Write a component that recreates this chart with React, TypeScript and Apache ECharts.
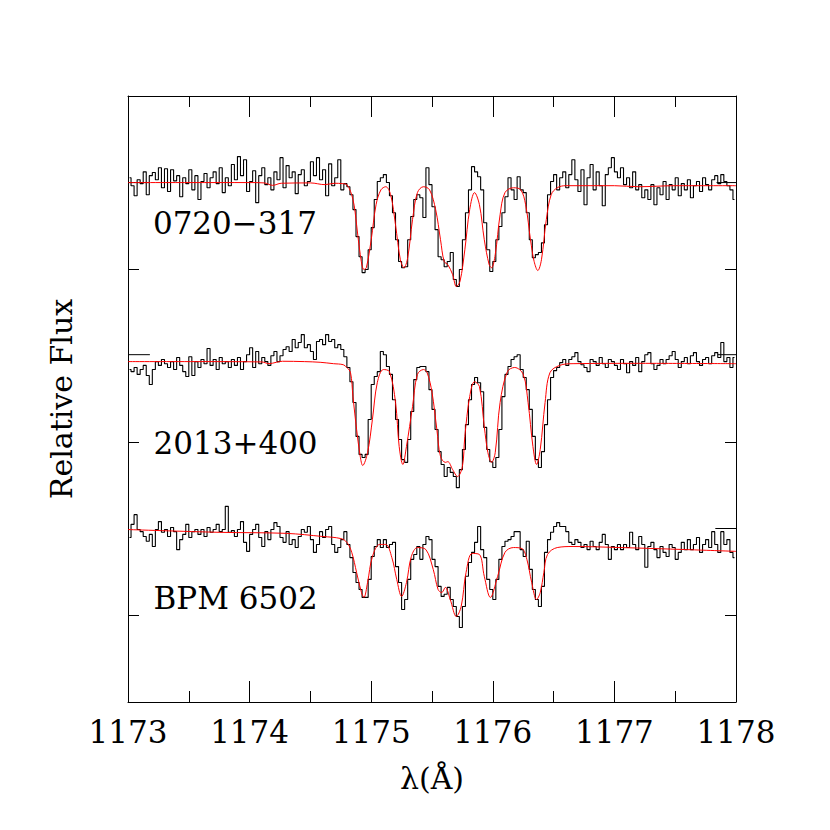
import React, { useEffect, useRef } from "react";
import * as echarts from "echarts";

// Wavelength axis (Angstrom)
const X_MIN = 1173;
const X_MAX = 1178;
const X_INTERVAL = 1;
// Relative flux axis (stacked spectra, offsets included)
const Y_MIN = -0.25;
const Y_MAX = 1.5;
const Y_TICKS = [0, 0.5, 1.0];

// Observed spectra: 200 bins of 0.025 A starting at 1173.0 (values at bin centres)
const BIN_START = 1173.0125;
const BIN_WIDTH = 0.025;

const STAR_NAMES = ["0720\u2212317", "2013+400", "BPM 6502"];

const TOP_FLUX = [
  1.264, 1.241, 1.212, 1.258, 1.247, 1.281, 1.215, 1.270, 1.279, 1.258,
  1.293, 1.235, 1.290, 1.224, 1.287, 1.255, 1.270, 1.209, 1.264, 1.247,
  1.287, 1.229, 1.270, 1.201, 1.253, 1.276, 1.235, 1.264, 1.281, 1.247,
  1.293, 1.221, 1.264, 1.241, 1.302, 1.258, 1.325, 1.270, 1.316, 1.224,
  1.253, 1.284, 1.192, 1.270, 1.293, 1.244, 1.264, 1.229, 1.281, 1.258,
  1.322, 1.235, 1.299, 1.264, 1.281, 1.218, 1.273, 1.287, 1.241, 1.253,
  1.310, 1.270, 1.322, 1.258, 1.287, 1.212, 1.304, 1.241, 1.264, 1.316,
  1.229, 1.247, 1.238, 1.215, 1.172, 1.094, 1.036, 0.990, 0.999, 1.056,
  1.120, 1.201, 1.253, 1.264, 1.273, 1.250, 1.212, 1.163, 1.085, 1.022,
  1.004, 1.007, 1.085, 1.152, 1.201, 1.215, 1.206, 1.149, 1.293, 1.244,
  1.180, 1.114, 1.036, 1.027, 1.007, 1.022, 1.048, 0.970, 0.950, 0.999,
  1.085, 1.163, 1.229, 1.296, 1.281, 1.267, 1.229, 1.134, 1.056, 0.993,
  1.022, 1.085, 1.123, 1.163, 1.209, 1.264, 1.229, 1.201, 1.267, 1.229,
  1.221, 1.163, 1.085, 1.033, 1.042, 1.048, 1.076, 1.128, 1.215, 1.253,
  1.273, 1.229, 1.264, 1.281, 1.235, 1.273, 1.316, 1.258, 1.224, 1.287,
  1.186, 1.264, 1.302, 1.229, 1.281, 1.241, 1.183, 1.273, 1.293, 1.322,
  1.281, 1.264, 1.293, 1.244, 1.264, 1.235, 1.281, 1.229, 1.244, 1.206,
  1.229, 1.201, 1.244, 1.186, 1.235, 1.215, 1.253, 1.201, 1.244, 1.229,
  1.264, 1.212, 1.247, 1.229, 1.258, 1.206, 1.241, 1.253, 1.224, 1.264,
  1.244, 1.229, 1.258, 1.270, 1.247, 1.273, 1.253, 1.241, 1.229, 1.201,
];

const MID_FLUX = [
  0.710, 0.704, 0.716, 0.696, 0.710, 0.722, 0.693, 0.667, 0.710, 0.733,
  0.722, 0.739, 0.727, 0.716, 0.733, 0.710, 0.745, 0.722, 0.704, 0.690,
  0.747, 0.693, 0.733, 0.716, 0.739, 0.727, 0.771, 0.722, 0.739, 0.710,
  0.745, 0.727, 0.733, 0.716, 0.739, 0.722, 0.745, 0.710, 0.733, 0.753,
  0.773, 0.716, 0.762, 0.727, 0.745, 0.733, 0.722, 0.750, 0.762, 0.733,
  0.750, 0.768, 0.776, 0.762, 0.797, 0.773, 0.788, 0.811, 0.773, 0.782,
  0.762, 0.739, 0.791, 0.797, 0.782, 0.811, 0.791, 0.797, 0.773, 0.782,
  0.768, 0.747, 0.716, 0.675, 0.615, 0.517, 0.465, 0.456, 0.465, 0.566,
  0.667, 0.690, 0.704, 0.762, 0.753, 0.719, 0.696, 0.623, 0.566, 0.508,
  0.450, 0.442, 0.508, 0.589, 0.681, 0.716, 0.719, 0.719, 0.704, 0.652,
  0.595, 0.537, 0.473, 0.436, 0.401, 0.427, 0.413, 0.401, 0.369, 0.421,
  0.479, 0.551, 0.623, 0.667, 0.687, 0.672, 0.646, 0.543, 0.479, 0.444,
  0.427, 0.456, 0.537, 0.632, 0.696, 0.719, 0.739, 0.747, 0.753, 0.710,
  0.687, 0.652, 0.595, 0.517, 0.450, 0.427, 0.473, 0.551, 0.623, 0.687,
  0.707, 0.716, 0.730, 0.739, 0.722, 0.739, 0.747, 0.759, 0.733, 0.724,
  0.716, 0.704, 0.739, 0.733, 0.722, 0.745, 0.727, 0.716, 0.739, 0.733,
  0.722, 0.710, 0.739, 0.727, 0.701, 0.733, 0.722, 0.745, 0.704, 0.733,
  0.753, 0.759, 0.727, 0.710, 0.722, 0.739, 0.727, 0.739, 0.750, 0.762,
  0.739, 0.716, 0.733, 0.745, 0.727, 0.750, 0.759, 0.733, 0.722, 0.739,
  0.745, 0.727, 0.750, 0.759, 0.745, 0.788, 0.733, 0.745, 0.716, 0.745,
];

const BOT_FLUX = [
  0.225, 0.263, 0.291, 0.248, 0.242, 0.228, 0.214, 0.234, 0.199, 0.248,
  0.271, 0.240, 0.248, 0.228, 0.254, 0.242, 0.190, 0.219, 0.234, 0.263,
  0.225, 0.242, 0.248, 0.234, 0.248, 0.228, 0.254, 0.240, 0.248, 0.263,
  0.242, 0.248, 0.315, 0.240, 0.245, 0.228, 0.248, 0.271, 0.211, 0.185,
  0.234, 0.248, 0.263, 0.225, 0.199, 0.242, 0.219, 0.248, 0.268, 0.257,
  0.225, 0.211, 0.242, 0.205, 0.219, 0.196, 0.228, 0.248, 0.240, 0.257,
  0.219, 0.182, 0.205, 0.242, 0.225, 0.248, 0.257, 0.205, 0.182, 0.196,
  0.219, 0.242, 0.205, 0.167, 0.124, 0.095, 0.075, 0.052, 0.052, 0.104,
  0.170, 0.199, 0.219, 0.196, 0.219, 0.196, 0.205, 0.211, 0.141, 0.095,
  0.017, 0.046, 0.104, 0.162, 0.176, 0.199, 0.162, 0.205, 0.228, 0.219,
  0.162, 0.141, 0.084, 0.055, 0.061, 0.081, 0.046, 0.026, -0.003, -0.035,
  0.026, 0.113, 0.153, 0.182, 0.211, 0.257, 0.190, 0.167, 0.104, 0.075,
  0.046, 0.104, 0.162, 0.199, 0.214, 0.219, 0.228, 0.242, 0.242, 0.190,
  0.170, 0.214, 0.133, 0.075, 0.046, 0.026, 0.084, 0.182, 0.219, 0.240,
  0.257, 0.268, 0.257, 0.257, 0.242, 0.211, 0.205, 0.219, 0.211, 0.196,
  0.205, 0.190, 0.214, 0.199, 0.190, 0.211, 0.234, 0.205, 0.162, 0.199,
  0.190, 0.205, 0.190, 0.205, 0.196, 0.240, 0.205, 0.190, 0.228, 0.205,
  0.139, 0.199, 0.211, 0.190, 0.167, 0.199, 0.182, 0.170, 0.205, 0.196,
  0.162, 0.182, 0.211, 0.190, 0.219, 0.190, 0.205, 0.225, 0.182, 0.205,
  0.219, 0.196, 0.242, 0.205, 0.182, 0.242, 0.205, 0.219, 0.182, 0.167,
];

// Model fits: [wavelength, flux]
const TOP_MODEL = [
  [1173.0, 1.250], [1173.5, 1.250], [1174.0, 1.250], [1174.12, 1.249], [1174.19, 1.242],
  [1174.26, 1.248], [1174.5, 1.249], [1174.62, 1.244], [1174.7, 1.248], [1174.76, 1.247],
  [1174.80, 1.244], [1174.85, 1.201], [1174.88, 1.128], [1174.91, 1.042], [1174.94, 0.999],
  [1174.96, 1.004], [1175.00, 1.085], [1175.04, 1.186], [1175.08, 1.229], [1175.12, 1.238],
  [1175.16, 1.215], [1175.20, 1.128], [1175.24, 1.027], [1175.27, 1.004], [1175.30, 1.033],
  [1175.34, 1.143], [1175.38, 1.221], [1175.43, 1.238], [1175.48, 1.229], [1175.53, 1.172],
  [1175.57, 1.085], [1175.60, 1.022], [1175.63, 1.013], [1175.67, 0.984], [1175.70, 0.950],
  [1175.73, 0.964], [1175.77, 1.056], [1175.81, 1.172], [1175.85, 1.221], [1175.89, 1.186],
  [1175.93, 1.085], [1175.97, 1.013], [1175.99, 1.004], [1176.02, 1.042], [1176.06, 1.157],
  [1176.10, 1.221], [1176.17, 1.235], [1176.23, 1.229], [1176.27, 1.186], [1176.31, 1.085],
  [1176.34, 1.022], [1176.37, 0.996], [1176.40, 1.027], [1176.44, 1.143], [1176.48, 1.215],
  [1176.53, 1.235], [1176.60, 1.241], [1177.0, 1.241], [1177.2, 1.238], [1177.5, 1.241],
  [1178.0, 1.241],
];

const MID_MODEL = [
  [1173.0, 0.733], [1173.6, 0.733], [1174.1, 0.732], [1174.16, 0.727], [1174.22, 0.731],
  [1174.27, 0.734], [1174.45, 0.733], [1174.58, 0.731], [1174.69, 0.727], [1174.77, 0.724],
  [1174.80, 0.716], [1174.83, 0.701], [1174.85, 0.632], [1174.88, 0.537], [1174.91, 0.459],
  [1174.93, 0.433], [1174.97, 0.470], [1175.01, 0.566], [1175.05, 0.672], [1175.10, 0.710],
  [1175.15, 0.704], [1175.20, 0.615], [1175.23, 0.488], [1175.26, 0.436], [1175.29, 0.488],
  [1175.34, 0.603], [1175.38, 0.696], [1175.43, 0.710], [1175.46, 0.701], [1175.50, 0.644],
  [1175.54, 0.537], [1175.57, 0.459], [1175.61, 0.442], [1175.63, 0.444], [1175.67, 0.421],
  [1175.71, 0.401], [1175.75, 0.430], [1175.77, 0.517], [1175.81, 0.632], [1175.85, 0.675],
  [1175.89, 0.661], [1175.93, 0.545], [1175.96, 0.470], [1175.99, 0.442], [1176.02, 0.470],
  [1176.06, 0.615], [1176.12, 0.704], [1176.18, 0.716], [1176.25, 0.696], [1176.29, 0.615],
  [1176.33, 0.488], [1176.36, 0.436], [1176.39, 0.479], [1176.43, 0.615], [1176.47, 0.701],
  [1176.55, 0.722], [1176.66, 0.727], [1177.2, 0.728], [1178.0, 0.727],
];

const BOT_MODEL = [
  [1173.0, 0.248], [1173.75, 0.240], [1174.3, 0.237], [1174.6, 0.228], [1174.75, 0.222],
  [1174.80, 0.211], [1174.84, 0.182], [1174.88, 0.124], [1174.92, 0.066], [1174.94, 0.052],
  [1174.97, 0.095], [1175.01, 0.170], [1175.07, 0.205], [1175.12, 0.205], [1175.17, 0.167],
  [1175.21, 0.104], [1175.25, 0.055], [1175.29, 0.095], [1175.33, 0.170], [1175.38, 0.196],
  [1175.45, 0.190], [1175.51, 0.133], [1175.55, 0.075], [1175.58, 0.066], [1175.61, 0.081],
  [1175.65, 0.046], [1175.70, -0.003], [1175.74, 0.026], [1175.78, 0.124], [1175.83, 0.179],
  [1175.89, 0.176], [1175.93, 0.113], [1175.98, 0.052], [1176.04, 0.113], [1176.10, 0.182],
  [1176.17, 0.196], [1176.24, 0.193], [1176.28, 0.162], [1176.32, 0.095], [1176.36, 0.046],
  [1176.39, 0.066], [1176.42, 0.124], [1176.45, 0.176], [1176.53, 0.196], [1176.66, 0.199],
  [1177.05, 0.196], [1177.6, 0.190], [1178.0, 0.185],
];

// Short continuum markers at the plot edges: [wavelength, flux] pairs
const CONT_MARKS = [
  [[1173.0, 1.250], [1173.18, 1.250]],
  [[1177.84, 1.250], [1178.0, 1.250]],
  [[1173.0, 0.753], [1173.18, 0.753]],
  [[1177.85, 0.753], [1178.0, 0.753]],
  [[1177.83, 0.251], [1178.0, 0.251]],
];

// Where each star's name sits: [wavelength of left edge, flux of text centre]
const LABEL_POS = [
  [1173.205, 1.133],
  [1173.21, 0.497],
  [1173.21, 0.050],
];

const FONT = "'DejaVu Serif', 'Liberation Serif', serif";

function binned(flux: number[]) {
  return flux.map((f, i) => [BIN_START + i * BIN_WIDTH, f]);
}

export default function App() {
  const ref = useRef<HTMLDivElement>(null);

  useEffect(() => {
    const el = ref.current;
    if (!el) return;
    const chart = echarts.init(el, null, { renderer: "svg" });

    const axisLine = { show: true, onZero: false, lineStyle: { color: "#000", width: 1 } };
    const xBase = {
      type: "value",
      min: X_MIN,
      max: X_MAX,
      interval: X_INTERVAL,
      axisLine,
      axisTick: { show: true, inside: true, length: 21, lineStyle: { color: "#000", width: 1 } },
      minorTick: { show: true, splitNumber: 2, length: 11, lineStyle: { color: "#000", width: 1 } },
      splitLine: { show: false },
      minorSplitLine: { show: false },
    };
    const yBase = {
      type: "value",
      min: Y_MIN,
      max: Y_MAX,
      interval: 0.25,
      axisLine,
      axisTick: {
        show: true,
        inside: true,
        length: 11,
        customValues: Y_TICKS,
        lineStyle: { color: "#000", width: 1 },
      },
      axisLabel: { show: false },
      splitLine: { show: false },
    };

    const observed = [TOP_FLUX, MID_FLUX, BOT_FLUX].map((flux, k) => ({
      name: STAR_NAMES[k] + " observed",
      type: "line",
      data: binned(flux),
      step: "middle",
      showSymbol: false,
      lineStyle: { color: "#000", width: 1.1 },
      z: 2,
    }));
    const models = [TOP_MODEL, MID_MODEL, BOT_MODEL].map((m, k) => ({
      name: STAR_NAMES[k] + " model",
      type: "line",
      data: m,
      smooth: 0.35,
      showSymbol: false,
      lineStyle: { color: "#ff0000", width: 1 },
      z: 3,
    }));
    const marks = CONT_MARKS.map((m, k) => ({
      name: "continuum " + k,
      type: "line",
      data: m,
      showSymbol: false,
      lineStyle: { color: "#000", width: 1 },
      z: 2,
    }));

    chart.setOption({
      animation: false,
      backgroundColor: "#fff",
      grid: { left: 128, top: 96, width: 608, height: 606, containLabel: false },
      xAxis: [
        {
          ...xBase,
          position: "bottom",
          axisLabel: {
            show: true,
            margin: 30,
            verticalAlign: "middle",
            fontFamily: FONT,
            fontSize: 31,
            color: "#000",
            showMinLabel: true,
            showMaxLabel: true,
            formatter: (v: number) => String(v),
          },
          name: "\u03bb(\u00c5)",
          nameLocation: "middle",
          nameGap: 76,
          nameTextStyle: { fontFamily: FONT, fontSize: 30, color: "#000", verticalAlign: "middle" },
        },
        { ...xBase, position: "top", axisLabel: { show: false } },
      ],
      yAxis: [
        {
          ...yBase,
          position: "left",
          name: "Relative Flux",
          nameLocation: "middle",
          nameRotate: 90,
          nameGap: 67,
          nameTextStyle: { fontFamily: FONT, fontSize: 30, color: "#000", verticalAlign: "middle" },
        },
        { ...yBase, position: "right" },
      ],
      series: [...observed, ...marks, ...models],
    });

    // Star names, placed through the chart's own coordinate system
    const graphics = STAR_NAMES.map((name, k) => {
      const p = chart.convertToPixel({ gridIndex: 0 }, LABEL_POS[k]) as number[];
      return {
        type: "text",
        x: p[0],
        y: p[1],
        z: 10,
        style: {
          text: name,
          fontFamily: FONT,
          fontSize: 31,
          fill: "#000",
          align: "left",
          verticalAlign: "middle",
        },
      };
    });
    chart.setOption({ graphic: graphics });

    return () => chart.dispose();
  }, []);

  return (
    <div
      ref={ref}
      style={{ position: "absolute", left: 0, top: 0, width: 830, height: 830, background: "#fff" }}
    />
  );
}
